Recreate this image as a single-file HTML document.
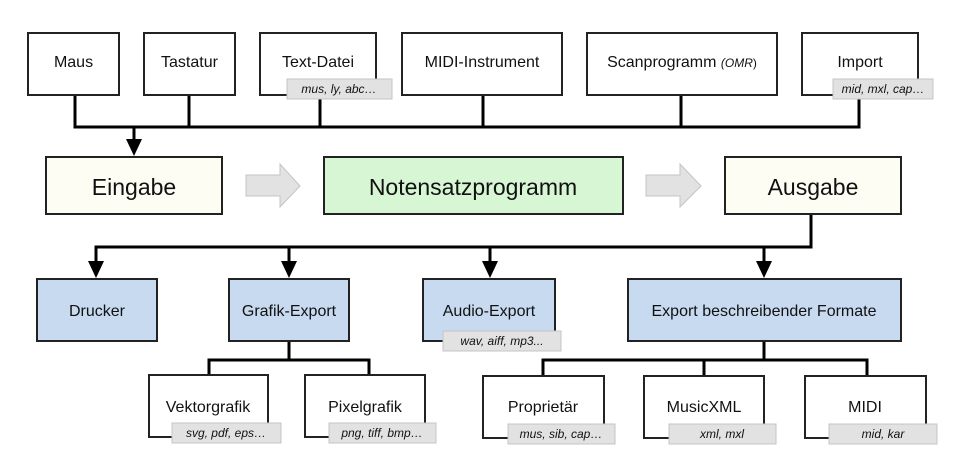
<!DOCTYPE html>
<html><head><meta charset="utf-8"><style>html,body{margin:0;padding:0;background:#fff}svg{display:block}text{font-family:"Liberation Sans",Arial,sans-serif;fill:#111}</style></head><body>
<svg width="960" height="475" viewBox="0 0 960 475" xmlns="http://www.w3.org/2000/svg">
<g stroke="#000" stroke-width="3" fill="none">
<path d="M75 95V127M189 95V127M320 95V127M483 95V127M681 95V127M859 95V127M73.5 127H860.5M134 127V140"/>
<path d="M811 215V247M94.5 247H812.5M96 247V262M289 247V262M490 247V262M764 247V262"/>
<path d="M289 341V360M207.5 360H370.5M209 360V375M369 360V375"/>
<path d="M764 341V360M541.5 360H868.5M543 360V376M704 360V376M867 360V376"/>
</g>
<g fill="#000">
<path d="M126 139H142L134 156Z"/>
<path d="M88 261H104L96 278Z"/><path d="M281 261H297L289 278Z"/><path d="M482 261H498L490 278Z"/><path d="M756 261H772L764 278Z"/>
</g>
<g stroke="#222" stroke-width="2">
<rect x="28" y="33" width="91" height="62" fill="#fff"/>
<rect x="144" y="33" width="91" height="62" fill="#fff"/>
<rect x="260" y="33" width="116" height="62" fill="#fff"/>
<rect x="402" y="33" width="160" height="62" fill="#fff"/>
<rect x="587" y="33" width="190" height="62" fill="#fff"/>
<rect x="802" y="33" width="116" height="62" fill="#fff"/>
<rect x="46" y="157" width="176" height="57" fill="#fdfdf3"/>
<rect x="324" y="157" width="299" height="57" fill="#d6f6d4"/>
<rect x="725" y="157" width="176" height="57" fill="#fdfdf3"/>
<rect x="37" y="279" width="120" height="62" fill="#c7daf0"/>
<rect x="229" y="279" width="120" height="62" fill="#c7daf0"/>
<rect x="423" y="279" width="132" height="62" fill="#c7daf0"/>
<rect x="628" y="279" width="273" height="62" fill="#c7daf0"/>
<rect x="149" y="375" width="119" height="62" fill="#fff"/>
<rect x="305" y="375" width="120" height="62" fill="#fff"/>
<rect x="483" y="376" width="121" height="62" fill="#fff"/>
<rect x="644" y="376" width="120" height="62" fill="#fff"/>
<rect x="805" y="376" width="121" height="62" fill="#fff"/>
</g>
<g fill="#e2e2e2" stroke="#c4c4c4" stroke-width="1">
<path d="M246 175H280V164L300 186L280 207V196H246Z"/>
<path d="M646 175H680V164L701 186L680 207V196H646Z"/>
<rect x="287" y="79" width="105" height="20"/>
<rect x="833" y="79" width="100" height="20"/>
<rect x="443" y="331" width="118" height="20"/>
<rect x="172" y="423" width="109" height="20"/>
<rect x="329" y="423" width="107" height="20"/>
<rect x="508" y="424" width="107" height="20"/>
<rect x="669" y="424" width="107" height="20"/>
<rect x="829" y="424" width="108" height="20"/>
</g>
<g font-size="16" text-anchor="middle">
<text x="73.5" y="67">Maus</text>
<text x="189.5" y="67">Tastatur</text>
<text x="318" y="67">Text-Datei</text>
<text x="482" y="67">MIDI-Instrument</text>
<text x="682" y="67">Scanprogramm <tspan font-size="12" font-style="italic">(OMR</tspan><tspan font-size="12">)</tspan></text>
<text x="860" y="67">Import</text>
<text x="97" y="316">Drucker</text>
<text x="289" y="316">Grafik-Export</text>
<text x="489" y="316">Audio-Export</text>
<text x="764" y="316">Export beschreibender Formate</text>
<text x="208" y="412">Vektorgrafik</text>
<text x="365" y="412">Pixelgrafik</text>
<text x="543" y="412">Proprietär</text>
<text x="704" y="412">MusicXML</text>
<text x="865" y="412">MIDI</text>
</g>
<g font-size="23" text-anchor="middle">
<text x="134" y="195">Eingabe</text>
<text x="473" y="195">Notensatzprogramm</text>
<text x="813" y="195">Ausgabe</text>
</g>
<g font-size="12" font-style="italic" text-anchor="middle" fill="#222">
<text x="339" y="93">mus, ly, abc…</text>
<text x="883" y="93">mid, mxl, cap…</text>
<text x="502" y="345">wav, aiff, mp3...</text>
<text x="226" y="437">svg, pdf, eps…</text>
<text x="382" y="437">png, tiff, bmp…</text>
<text x="561" y="438">mus, sib, cap…</text>
<text x="722" y="438">xml, mxl</text>
<text x="883" y="438">mid, kar</text>
</g>
</svg>
</body></html>
